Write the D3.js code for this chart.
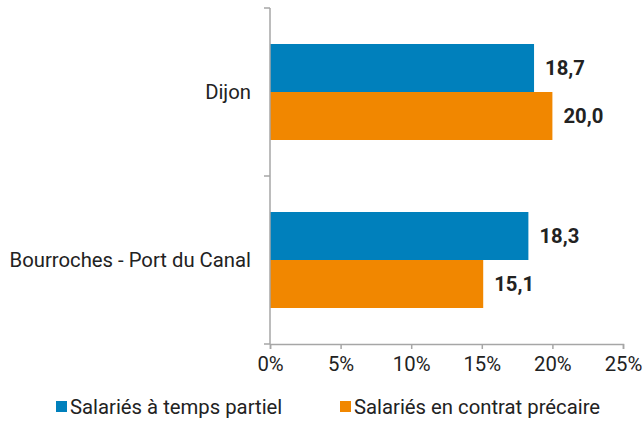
<!DOCTYPE html>
<html><head><meta charset="utf-8">
<script src="https://cdn.jsdelivr.net/npm/d3@7"></script>
<style>body{margin:0;background:#fff;font-family:Roboto,sans-serif}</style>
</head><body><svg id="c" width="643" height="421"></svg>
<script>
const categories = ["Dijon", "Bourroches - Port du Canal"];
const seriesNames = ["Salariés à temps partiel", "Salariés en contrat précaire"];
const partiel = [18.7, 18.3];
const precaire = [20.0, 15.1];
const xTicks = [0, 5, 10, 15, 20, 25];
const colors = ["#0080BC", "#F18700"];

const svg = d3.select("#c");
const FS = 20.3;
const x = d3.scaleLinear().domain([0, 25]).range([270, 623]);
const y = d3.scaleBand().domain(categories).range([8, 344]).paddingInner(0).paddingOuter(0);
const inner = d3.scaleBand().domain([0, 1]).range([0, y.bandwidth()]).paddingInner(0).paddingOuter(0.75);
const axisColor = "#a6a6a6";

const data = categories.map((c, i) => ({cat: c, vals: [partiel[i], precaire[i]]}));

const g = svg.append("g");
data.forEach(d => {
  d.vals.forEach((v, k) => {
    g.append("rect")
      .attr("x", x(0)).attr("y", y(d.cat) + inner(k))
      .attr("width", x(v) - x(0)).attr("height", inner.bandwidth())
      .attr("fill", colors[k]);
    g.append("text")
      .attr("x", x(v) + 11).attr("y", y(d.cat) + inner(k) + inner.bandwidth() / 2)
      .attr("dy", "0.35em").attr("font-weight", "bold").attr("font-size", FS)
      .attr("fill", "#222").text(v.toFixed(1).replace(".", ","));
  });
});

// left axis
const yl = svg.append("g");
yl.append("line").attr("x1", x(0)).attr("x2", x(0)).attr("y1", 8).attr("y2", 344)
  .attr("stroke", axisColor).attr("stroke-width", 1.5);
[...categories.map(c => y(c)), 344].forEach(t => {
  yl.append("line").attr("x1", x(0) - 6).attr("x2", x(0)).attr("y1", t).attr("y2", t)
    .attr("stroke", axisColor).attr("stroke-width", 1.5);
});
categories.forEach(c => {
  yl.append("text").attr("x", 251).attr("y", y(c) + y.bandwidth() / 2).attr("dy", "0.35em")
    .attr("text-anchor", "end").attr("font-size", FS).attr("fill", "#222").text(c);
});

// bottom axis
const xa = svg.append("g").attr("transform", "translate(0,344)")
  .call(d3.axisBottom(x).tickValues(xTicks).tickSize(5).tickPadding(8).tickFormat(d => d + "%"));
xa.select(".domain").attr("stroke", axisColor).attr("stroke-width", 1.5);
xa.selectAll(".tick line").attr("stroke", axisColor).attr("stroke-width", 1.5);
xa.selectAll(".tick text").attr("font-size", FS).attr("fill", "#222").attr("font-family", "Roboto, sans-serif");

// legend
const legX = [56, 340];
seriesNames.forEach((s, k) => {
  const lg = svg.append("g").attr("transform", `translate(${legX[k]},401)`);
  lg.append("rect").attr("width", 11).attr("height", 11).attr("fill", colors[k]);
  lg.append("text").attr("x", 14).attr("y", 6).attr("dy", "0.35em").attr("font-size", FS)
    .attr("fill", "#222").text(s);
});
</script></body></html>
